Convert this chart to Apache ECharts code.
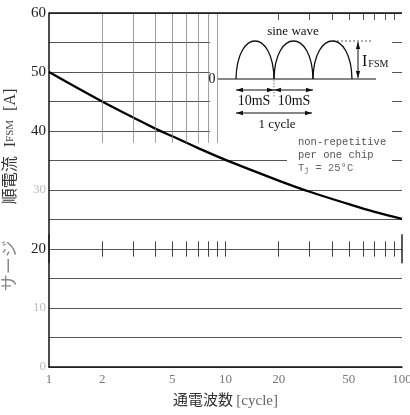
<!DOCTYPE html>
<html>
<head>
<meta charset="utf-8">
<script src="https://cdn.jsdelivr.net/npm/echarts@6/dist/echarts.min.js"></script>
<style>
  html, body { margin: 0; padding: 0; background: #fff; }
  #surgeChart { width: 410px; height: 415px; }
</style>
</head>
<body>
<div id="surgeChart"></div>
<script>
// data
var cycles = [1, 2, 3, 4, 5, 7, 10, 20, 30, 50, 70, 100]
var surgeCurrent = [50, 45.0, 42.3, 40.4, 39.1, 37.1, 35.1, 31.6, 29.7, 27.6, 26.3, 25.1]
// axis ticks / labels
var xLabels = [1, 2, 5, 10, 20, 50, 100]
var yDarkLabels = [60, 50, 40, 20]
var gridCycles = [2, 3, 4, 5, 6, 7, 8, 9]
var topTickCycles = [20, 30, 40, 50, 60, 70, 80, 90]
var midTickCycles = [2, 3, 4, 5, 6, 7, 8, 9, 10, 20, 30, 40, 50, 60, 70, 80, 90]
var endTickCycles = [1, 100]

var serif = '"Liberation Serif", "DejaVu Serif", "Noto Sans CJK JP", serif'
var mono = '"Liberation Mono", "DejaVu Sans Mono", monospace'

// chart locate + init
var chartEl = document.getElementById('surgeChart')
var chart = echarts.init(chartEl)

// markLine segments for the scanned grid marks
var segs = []
gridCycles.forEach(function (c) {
  segs.push([{ coord: [c, 60], lineStyle: { color: '#888', width: 0.8, type: 'solid' } }, { coord: [c, 38] }])
})
topTickCycles.forEach(function (c) {
  segs.push([{ coord: [c, 60], lineStyle: { color: '#555', width: 1, type: 'solid' } }, { coord: [c, 58.8] }])
})
midTickCycles.forEach(function (c) {
  segs.push([{ coord: [c, 21.3], lineStyle: { color: '#444', width: 1, type: 'solid' } }, { coord: [c, 18.7] }])
})
endTickCycles.forEach(function (c) {
  segs.push([{ coord: [c, 22.5], lineStyle: { color: '#222', width: 1.5, type: 'solid' } }, { coord: [c, 17.6] }])
})
segs.push([{ coord: [1, 60], lineStyle: { color: '#111', width: 1.6, type: 'solid' } }, { coord: [100, 60] }])

// inset helpers
function hArrow (x1, x2, y) {
  return [
    { type: 'line', z: 5, shape: { x1: x1, y1: y, x2: x2, y2: y }, style: { stroke: '#111', lineWidth: 1 } },
    { type: 'polygon', z: 5, shape: { points: [[x1, y], [x1 + 7, y - 2.2], [x1 + 7, y + 2.2]] }, style: { fill: '#111' } },
    { type: 'polygon', z: 5, shape: { points: [[x2, y], [x2 - 7, y - 2.2], [x2 - 7, y + 2.2]] }, style: { fill: '#111' } }
  ]
}
function vArrow (x, y1, y2) {
  return [
    { type: 'line', z: 5, shape: { x1: x, y1: y1, x2: x, y2: y2 }, style: { stroke: '#111', lineWidth: 1 } },
    { type: 'polygon', z: 5, shape: { points: [[x, y1], [x - 2.2, y1 + 7], [x + 2.2, y1 + 7]] }, style: { fill: '#111' } },
    { type: 'polygon', z: 5, shape: { points: [[x, y2], [x - 2.2, y2 - 7], [x + 2.2, y2 - 7]] }, style: { fill: '#111' } }
  ]
}
function hump (x0, x1, base, h) {
  var cy = base - h * 4 / 3
  return {
    type: 'bezierCurve', z: 5,
    shape: { x1: x0, y1: base, cpx1: x0 + 1, cpy1: cy, cpx2: x1 - 1, cpy2: cy, x2: x1, y2: base },
    style: { stroke: '#111', lineWidth: 1.3, fill: null }
  }
}
function txt (x, y, text, size, color, font, align) {
  return {
    type: 'text', z: 6, x: x, y: y,
    style: { text: text, fontSize: size, fill: color || '#111', fontFamily: font || serif, align: align || 'center', verticalAlign: 'middle' }
  }
}

var inset = [
  // white patches where the scan has no grid behind the sketch
  { type: 'rect', z: 1, shape: { x: 210, y: 21, width: 182, height: 119 }, style: { fill: '#fff' } },
  { type: 'rect', z: 1, shape: { x: 287, y: 140, width: 105, height: 36 }, style: { fill: '#fff' } },
  txt(293, 32, 'sine wave', 13),
  txt(212, 79, '0', 14),
  { type: 'line', z: 5, shape: { x1: 218, y1: 79, x2: 376, y2: 79 }, style: { stroke: '#111', lineWidth: 1 } },
  hump(236, 274, 79, 38),
  hump(274, 313, 79, 38),
  hump(313, 352, 79, 38),
  { type: 'line', z: 5, shape: { x1: 333, y1: 41, x2: 372, y2: 41 }, style: { stroke: '#333', lineWidth: 0.8, lineDash: [2, 2] } },
  { type: 'line', z: 5, shape: { x1: 274, y1: 80, x2: 274, y2: 97 }, style: { stroke: '#555', lineWidth: 0.8, lineDash: [1.5, 1.5] } },
  txt(254, 101, '10mS', 14),
  txt(294, 101, '10mS', 14),
  txt(277, 125, '1 cycle', 13),
  {
    type: 'text', z: 6, x: 362, y: 62,
    style: { text: '{i|I}{s|FSM}', fontFamily: serif, fill: '#111', verticalAlign: 'middle', rich: { i: { fontSize: 16, fontFamily: serif }, s: { fontSize: 10, fontFamily: serif, padding: [5, 0, 0, 1] } } }
  },
  txt(298, 142, 'non-repetitive', 10.5, '#555', mono, 'left'),
  txt(298, 155, 'per one chip', 10.5, '#555', mono, 'left'),
  {
    type: 'text', z: 6, x: 298, y: 168,
    style: { text: '{n|T}{s|j}{n| = 25°C}', fill: '#666', verticalAlign: 'middle', rich: { n: { fontSize: 10.5, fontFamily: mono }, s: { fontSize: 8, fontFamily: mono, padding: [4, 0, 0, 0] } } }
  }
].concat(hArrow(236, 274, 90), hArrow(274, 313, 90), hArrow(236, 312, 113), vArrow(358, 42, 78))

var option = {
  animation: false,
  backgroundColor: '#fff',
  grid: { left: 49, right: 8, top: 13, bottom: 48, outerBoundsMode: 'none' },
  xAxis: {
    type: 'log',
    logBase: 10,
    min: 1,
    max: 100,
    name: '{d|通電波数} {l|[cycle]}',
    nameLocation: 'middle',
    nameGap: 27,
    nameTextStyle: {
      rich: {
        d: { fontSize: 15, color: '#333', fontFamily: serif },
        l: { fontSize: 15, color: '#666', fontFamily: serif }
      }
    },
    axisLine: { show: true, lineStyle: { color: '#111', width: 1.5 } },
    axisTick: { show: false },
    splitLine: { show: false },
    minorTick: { show: false },
    axisLabel: { customValues: xLabels, color: '#777', fontSize: 13, fontFamily: serif, margin: 6 }
  },
  yAxis: {
    type: 'value',
    min: 0,
    max: 60,
    interval: 5,
    name: '{l|サージ}{g| }{d|順電流}{g2| }{d|I}{s|FSM}{g3| }{d|[A]}',
    nameLocation: 'middle',
    nameGap: 30,
    nameTextStyle: {
      rich: {
        l: { fontSize: 17, color: '#888', fontFamily: serif },
        d: { fontSize: 16, color: '#333', fontFamily: serif },
        s: { fontSize: 11, color: '#444', fontFamily: serif },
        g: { width: 36 },
        g2: { width: 9 },
        g3: { width: 9 }
      }
    },
    axisLine: { show: true, lineStyle: { color: '#111', width: 1.5 } },
    axisTick: { show: false },
    splitLine: { show: true, lineStyle: { color: '#555', width: 1 } },
    axisLabel: {
      margin: 3,
      formatter: function (v) {
        if (v % 10) return ''
        return yDarkLabels.indexOf(v) >= 0 ? '{d|' + v + '}' : '{l|' + v + '}'
      },
      rich: {
        d: { fontSize: 15, color: '#222', fontFamily: serif },
        l: { fontSize: 13, color: '#bbb', fontFamily: serif }
      }
    }
  },
  graphic: inset,
  series: [
    {
      name: 'IFSM',
      type: 'line',
      z: 4,
      smooth: 0.4,
      symbol: 'none',
      data: cycles.map(function (c, i) { return [c, surgeCurrent[i]] }),
      lineStyle: { color: '#000', width: 2.3 },
      markLine: {
        silent: true,
        symbol: ['none', 'none'],
        label: { show: false },
        data: segs
      }
    }
  ]
}
chart.setOption(option, true)
</script>
</body>
</html>
